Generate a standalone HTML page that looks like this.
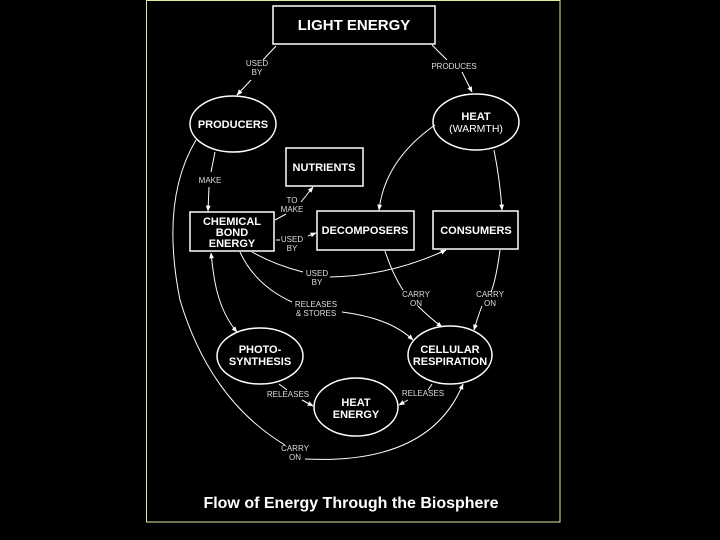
<!DOCTYPE html>
<html><head><style>
html,body{margin:0;padding:0;background:#000;}
svg{display:block;}
text{font-family:"Liberation Sans",Arial,sans-serif;fill:#fff;}
.b{font-weight:bold;font-size:11px;}
.l{font-size:8px;fill:#ddd;}
</style></head><body>
<svg width="720" height="540" viewBox="0 0 720 540" xmlns="http://www.w3.org/2000/svg">
<defs><marker id="a" viewBox="0 0 10 10" refX="9" refY="5" markerWidth="6" markerHeight="6" orient="auto"><path d="M0,1 L10,5 L0,9 z" fill="#fff"/></marker></defs>
<rect x="0" y="0" width="720" height="540" fill="#000"/>
<rect x="146.5" y="0.5" width="413.5" height="521.5" fill="none" stroke="#e8e89a" stroke-width="1"/>
<g fill="none" stroke="#fff" stroke-width="1.5">
<rect x="273" y="6" width="162" height="38"/>
<ellipse cx="233" cy="124" rx="43" ry="28"/>
<ellipse cx="476" cy="122" rx="43" ry="28"/>
<rect x="286" y="148" width="77" height="38"/>
<rect x="190" y="212" width="84" height="39"/>
<rect x="317" y="211" width="97" height="39"/>
<rect x="433" y="211" width="85" height="38"/>
<ellipse cx="260" cy="356" rx="43" ry="28"/>
<ellipse cx="450" cy="355" rx="42" ry="29"/>
<ellipse cx="356" cy="407" rx="42" ry="29"/>
</g>
<g fill="none" stroke="#fff" stroke-width="1">
<path d="M276,46 L263,60 M251,80 L237,95" marker-end="url(#a)"/>
<path d="M432,45 L447,60 M462,72 L472,92" marker-end="url(#a)"/>
<path d="M215,152 L211,172 M209,187 L208,211" marker-end="url(#a)"/>
<path d="M275,220 L286,214 M301,202 L313,187" marker-end="url(#a)"/>
<path d="M280,240 L276,240"/>
<path d="M308,236 L316,233" marker-end="url(#a)"/>
<path d="M435,125 Q385,160 379,210" marker-end="url(#a)"/>
<path d="M494,150 Q500,180 502,210" marker-end="url(#a)"/>
<path d="M252,252 Q275,265 303,272"/>
<path d="M330,277 Q390,276 446,250" marker-end="url(#a)"/>
<path d="M385,251 Q393,275 403,290"/>
<path d="M418,306 Q430,318 442,327" marker-end="url(#a)"/>
<path d="M500,250 Q496,280 491,292"/>
<path d="M482,306 Q478,316 474,330" marker-end="url(#a)"/>
<path d="M240,252 Q255,285 292,302"/>
<path d="M342,312 Q390,318 413,340" marker-end="url(#a)"/>
<path d="M213,270 Q218,310 237,332" marker-end="url(#a)"/>
<path d="M213,270 L211,253" marker-end="url(#a)"/>
<path d="M196,140 Q160,200 180,300 Q210,400 285,445"/>
<path d="M305,459 Q430,465 463,384" marker-end="url(#a)"/>
<path d="M279,384 L287,390 M302,400 L313,406" marker-end="url(#a)"/>
<path d="M432,384 L428,390 M408,400 L399,405" marker-end="url(#a)"/>
</g>
<g text-anchor="middle">
<text x="354" y="30" class="b" style="font-size:15px">LIGHT ENERGY</text>
<text x="233" y="128" class="b">PRODUCERS</text>
<text x="476" y="120" class="b">HEAT</text>
<text x="476" y="132" style="font-size:10.5px">(WARMTH)</text>
<text x="324" y="171" class="b">NUTRIENTS</text>
<text x="232" y="225" class="b">CHEMICAL</text>
<text x="232" y="236" class="b">BOND</text>
<text x="232" y="247" class="b">ENERGY</text>
<text x="365" y="234" class="b">DECOMPOSERS</text>
<text x="476" y="234" class="b">CONSUMERS</text>
<text x="260" y="353" class="b">PHOTO-</text>
<text x="260" y="365" class="b">SYNTHESIS</text>
<text x="450" y="353" class="b">CELLULAR</text>
<text x="450" y="365" class="b">RESPIRATION</text>
<text x="356" y="406" class="b">HEAT</text>
<text x="356" y="418" class="b">ENERGY</text>
<text class="l" x="257" y="66">USED</text><text class="l" x="257" y="75">BY</text>
<text class="l" x="454" y="69">PRODUCES</text>
<text class="l" x="210" y="183">MAKE</text>
<text class="l" x="292" y="203">TO</text><text class="l" x="292" y="212">MAKE</text>
<text class="l" x="292" y="242">USED</text><text class="l" x="292" y="251">BY</text>
<text class="l" x="317" y="276">USED</text><text class="l" x="317" y="285">BY</text>
<text class="l" x="316" y="307">RELEASES</text><text class="l" x="316" y="316">&amp; STORES</text>
<text class="l" x="416" y="297">CARRY</text><text class="l" x="416" y="306">ON</text>
<text class="l" x="490" y="297">CARRY</text><text class="l" x="490" y="306">ON</text>
<text class="l" x="288" y="397">RELEASES</text>
<text class="l" x="423" y="396">RELEASES</text>
<text class="l" x="295" y="451">CARRY</text><text class="l" x="295" y="460">ON</text>
<text x="351" y="508" style="font-size:16px;font-weight:bold">Flow of Energy Through the Biosphere</text>
</g>
</svg>
</body></html>
